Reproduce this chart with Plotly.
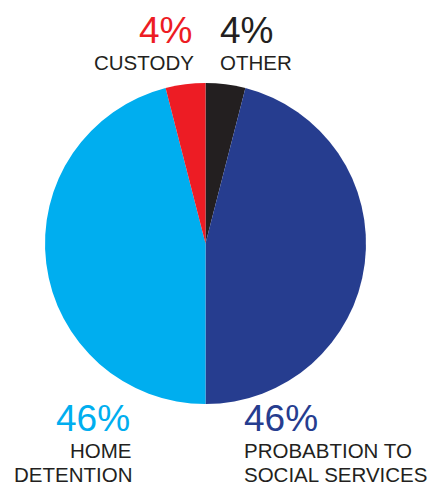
import plotly.graph_objects as go

categories = ["OTHER", "PROBABTION TO SOCIAL SERVICES", "HOME DETENTION", "CUSTODY"]
values = [4, 46, 46, 4]
pct_labels = ["4%", "46%", "46%", "4%"]
colors = ["#231F20", "#263D8F", "#00AEEF", "#ED1C24"]

W, H = 430, 487

def px(x):
    return x / W

def py(y):
    return 1 - y / H

fig = go.Figure(go.Pie(
    labels=categories, values=values, sort=False, direction="clockwise",
    rotation=0, marker=dict(colors=colors, line=dict(width=0)),
    textinfo="none", hoverinfo="skip", showlegend=False,
    domain=dict(x=[px(45), px(366)], y=[py(404), py(83)]),
))

FONT = "Liberation Sans, Arial, sans-serif"
DARK = "#231F20"

def ann(text, x, y, color, size, xanchor):
    fig.add_annotation(text=text, x=px(x), y=py(y), xref="paper", yref="paper",
                       xanchor=xanchor, yanchor="bottom", showarrow=False,
                       font=dict(family=FONT, size=size, color=color))

# Custody (top-left)
ann(pct_labels[3], 194, 53, colors[3], 37, "right")
ann("CUSTODY", 196, 76, DARK, 20.5, "right")
# Other (top-right)
ann(pct_labels[0], 218, 53, colors[0], 37, "left")
ann("OTHER", 218, 76, DARK, 20.5, "left")
# Home detention (bottom-left)
ann(pct_labels[2], 132, 441, colors[2], 37, "right")
ann("HOME", 134, 464, DARK, 20.5, "right")
ann("DETENTION", 134, 488, DARK, 20.5, "right")
# Probation (bottom-right)
ann(pct_labels[1], 242, 441, colors[1], 37, "left")
ann("PROBABTION TO", 242, 464, DARK, 20.5, "left")
ann("SOCIAL SERVICES", 242, 488, DARK, 20.5, "left")

fig.update_layout(width=W, height=H, margin=dict(l=0, r=0, t=0, b=0),
                  paper_bgcolor="white", plot_bgcolor="white")
fig.write_html("out.html")
